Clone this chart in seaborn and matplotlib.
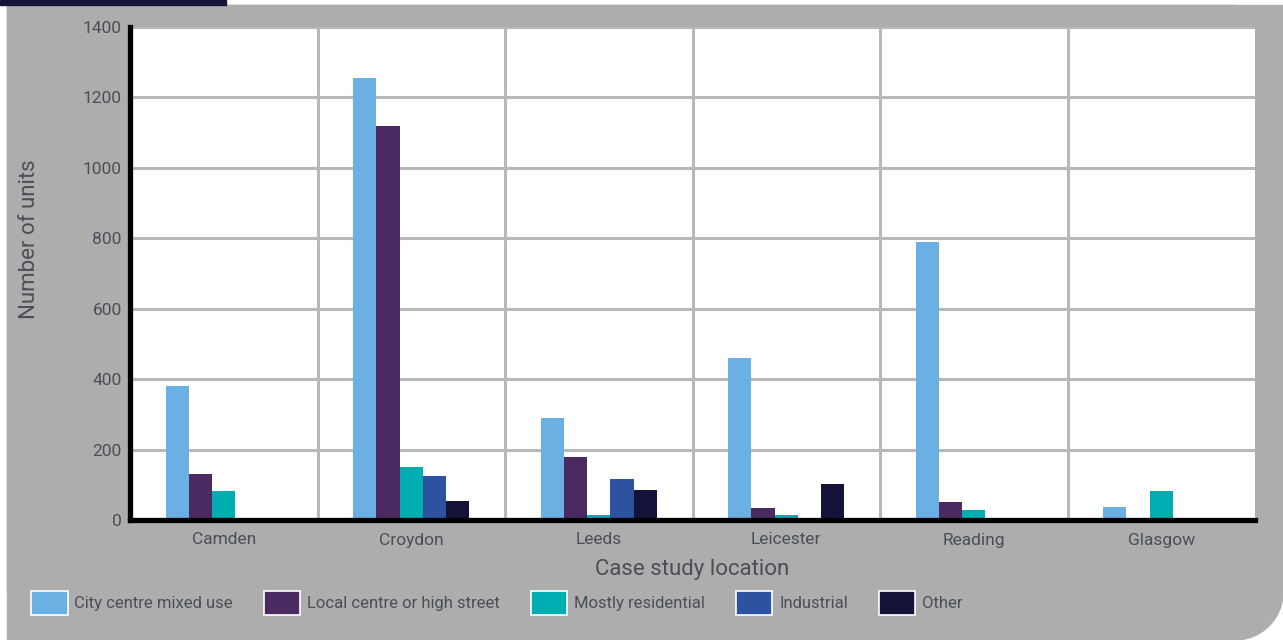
import seaborn as sns
import matplotlib.pyplot as plt
import matplotlib.patches as mpatches
import pandas as pd

# data
locations = ["Camden", "Croydon", "Leeds", "Leicester", "Reading", "Glasgow"]
city_centre = [380, 1255, 290, 460, 790, 37]
local_centre = [130, 1120, 178, 33, 50, 0]
mostly_res = [82, 150, 15, 15, 27, 82]
industrial = [0, 124, 116, 0, 0, 0]
other = [0, 53, 85, 102, 0, 0]

series = ["City centre mixed use", "Local centre or high street",
          "Mostly residential", "Industrial", "Other"]
colors = ["#6ab0e2", "#4b2a62", "#00adb1", "#2c52a0", "#13133a"]

rows = []
for name, vals in zip(series, [city_centre, local_centre, mostly_res, industrial, other]):
    for loc, v in zip(locations, vals):
        rows.append({"location": loc, "type": name, "units": v})
df = pd.DataFrame(rows)

sns.set_theme(style="white")
plt.rcParams['font.family'] = ['Roboto', 'DejaVu Sans']
txt = "#4a4f57"

W, H = 1283, 640
fig = plt.figure(figsize=(W / 100, H / 100), dpi=100, facecolor="white")

# grey panel with rounded bottom-right corner
grey = "#adadad"
r = 48
bg = [
    mpatches.Rectangle((7 / W, r / H), (W - 7) / W, (H - 5 - r) / H),
    mpatches.Rectangle((7 / W, 0), (W - 7 - r) / W, (H - 5) / H),
    mpatches.Ellipse(((W - r) / W, r / H), 2 * r / W, 2 * r / H),
]
for p in bg:
    p.set_transform(fig.transFigure)
    p.set_color(grey)
    p.set_zorder(-10)
    fig.patches.append(p)
# navy strip top-left
strip = mpatches.Rectangle((0, (H - 5) / H), 226 / W, 5 / H, transform=fig.transFigure,
                           color="#14143a", zorder=-10)
fig.patches.append(strip)

ax = fig.add_axes([130 / W, 120 / H, 1125 / W, 493 / H])
ax.set_zorder(1)
ax.set_facecolor("white")

sns.barplot(data=df, x="location", y="units", hue="type", palette=colors,
            width=0.62, ax=ax, legend=False, saturation=1,
            edgecolor="none", linewidth=0)

ax.set_ylim(0, 1400)
ax.set_xlim(-0.5, 5.5)
ax.set_yticks(range(0, 1401, 200))
ax.set_xticks(range(len(locations)))
ax.set_xticklabels(locations)
ax.set_xticks([i + 0.5 for i in range(5)], minor=True)
ax.grid(axis="y", which="major", color="#b8b8b8", linewidth=2.2, zorder=0)
ax.grid(axis="x", which="minor", color="#b8b8b8", linewidth=2.2, zorder=0)
ax.grid(axis="x", which="major", visible=False)
ax.set_axisbelow(True)

for s in ["top", "right"]:
    ax.spines[s].set_visible(False)
for s in ["left", "bottom"]:
    ax.spines[s].set_color("black")
    ax.spines[s].set_linewidth(3.8)

ax.tick_params(axis="both", which="both", length=0, labelsize=12.5, labelcolor=txt)
ax.tick_params(axis="x", pad=9)
ax.tick_params(axis="y", pad=6)
ax.set_xlabel("Case study location", fontsize=16, color=txt, labelpad=8)
ax.set_ylabel("Number of units", fontsize=16, color=txt)
ax.yaxis.set_label_coords(-0.08, 0.57)

handles = [mpatches.Patch(facecolor=c, edgecolor="white", linewidth=1.2, label=s)
           for s, c in zip(series, colors)]
fig.legend(handles=handles, loc="center left", bbox_to_anchor=(16 / W, 37 / H),
           ncol=5, frameon=False, fontsize=12, labelcolor=txt,
           handlelength=2.2, handleheight=1.85, handletextpad=0.4, columnspacing=1.85)

fig.savefig("out.png", dpi=100, facecolor=fig.get_facecolor())
